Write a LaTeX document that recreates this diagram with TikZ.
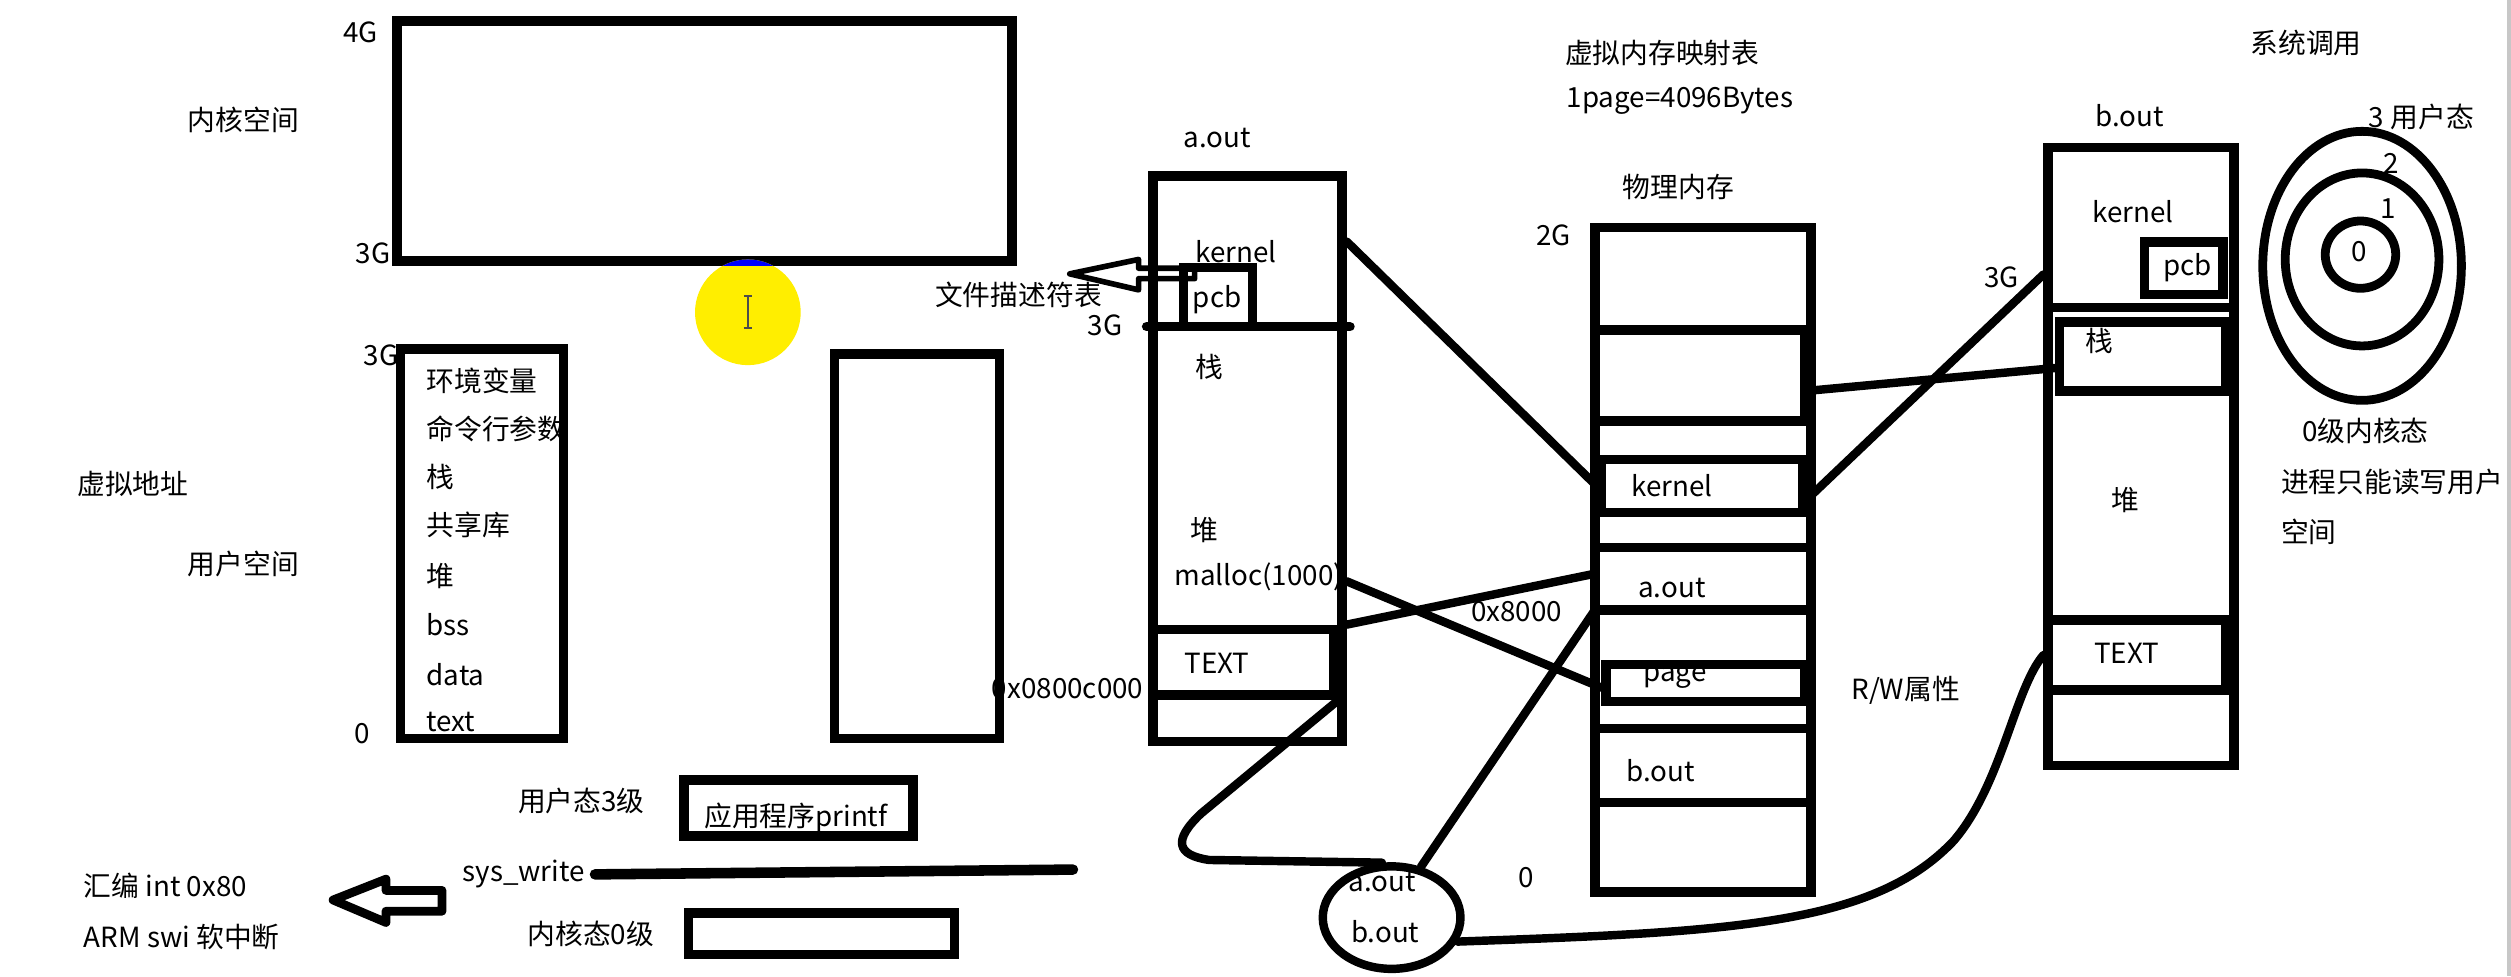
\documentclass[tikz,border=0pt]{standalone}
\usepackage{fontspec}
\setmainfont{Noto Sans CJK SC}
\usetikzlibrary{fit,shapes.geometric,calc}
\definecolor{hl}{RGB}{255,238,0}
\begin{document}
\begin{tikzpicture}[x=0.16014mm,y=-0.16014mm,
  bx/.style={draw, line width=2.7pt, inner sep=0pt, rectangle},
  ln/.style={line width=2.7pt},
  conn/.style={line width=2.4pt, line cap=round, line join=round},
  ring/.style={draw, ellipse, line width=2.5pt, inner sep=0pt},
  tx/.style={inner sep=0pt, font=\fontsize{7.9}{9.5}\selectfont},
]
\useasboundingbox (0,0) rectangle (1568,609.5);
\fill[white] (0,0) rectangle (1568,609.5);
\fill[black!22] (1565.6,0) rectangle (1568,609.5);

% ---------- left: kernel / user space ----------
\node[tx] (l4g) at (225,20) {4G};
\node[tx] (l3ga) at (233,158) {3G};
\node[tx] (lksp) at (152,75) {内核空间};
\node[bx, fit={(248,13)(632,163)}] (ksp) {};

\fill[hl] (467,195) circle [radius=5.285mm];
\begin{scope}
  \clip (467,195) circle [radius=5.285mm];
  \fill[blue] (420,160) rectangle (520,166.3);
\end{scope}
\draw[line width=0.5pt, black!70] (464.5,185)--(469.5,185) (467,185)--(467,205) (464.5,205)--(469.5,205);

\node[tx] (l3gb) at (238,222) {3G};
\node[tx] (l0a) at (226,458) {0};
\node[tx] (lva) at (83,302) {虚拟地址};
\node[tx] (lusp) at (152,352) {用户空间};
\node[tx, anchor=west] (u1) at (266,238) {环境变量};
\node[tx, anchor=west] (u2) at (266,268) {命令行参数};
\node[tx, anchor=west] (u3) at (266,298) {栈};
\node[tx, anchor=west] (u4) at (266,328) {共享库};
\node[tx, anchor=west] (u5) at (266,360) {堆};
\node[tx, anchor=west] (u6) at (266,390) {bss};
\node[tx, anchor=west] (u7) at (266,421) {data};
\node[tx, anchor=west] (u8) at (266,451) {text};
\node[bx, fit={(250,218)(352,461)}] (usp) {};

\node[tx, anchor=west] (t0800) at (619,430) {0x0800c000};
\node[bx, fit={(521,221)(624,461)}] (ebox) {};

% ---------- a.out ----------
\node[tx] (ta1) at (760,86) {a.out};
\node[tx] (tker1) at (772,157) {kernel};
\node[tx] (tpcb1) at (760,187) {pcb};
\node[tx] (tstk1) at (755,229) {栈};
\node[tx] (theap1) at (752,331) {堆};
\node[tx] (tmalloc) at (786,360) {malloc(1000)};
\node[tx] (ttext1) at (760,414) {TEXT};
\node[tx] (tfd) at (636,184) {文件描述符表};
\node[tx] (t3g2) at (690,203) {3G};
\node[bx, fit={(720,110)(838,463)}] (abox) {};
\node[bx, fit={(739,167)(782,204)}] (apcb) {};
\draw[ln, line cap=round] (716,204) -- (843,204);
\draw[ln] (720,393) -- (838,393);
\draw[ln] (720,434) -- (838,434);
\node[bx, fit={(720,393)(833,434)}] (atext) {};
\draw[line width=1.6pt, line join=round] (668,171) -- (711,162) -- (711,167.5) -- (746,167.5) -- (746,174) -- (711,174) -- (711,181) -- cycle;

% ---------- physical memory ----------
\node[tx] (tvm) at (1038,33) {虚拟内存映射表};
\node[tx] (tpg) at (1049,63) {1page=4096Bytes};
\node[tx] (tphys) at (1048,117) {物理内存};
\node[tx] (t2g) at (970,147) {2G};
\node[tx] (t8000) at (947,382) {0x8000};
\node[tx] (tz) at (953,548) {0};
\node[tx] (trw) at (1190,431) {R/W属性};
\node[bx, fit={(996,142)(1131,557)}] (pbox) {};
\node[bx, fit={(996,206)(1127,263)}] (pbox2) {};
\node[bx, fit={(1000,287)(1126,320)}] (pker) {};
\draw[ln] (996,342) -- (1131,342);
\draw[ln] (996,381) -- (1131,381);
\node[inner sep=0pt, fit={(996,342)(1131,381)}] (paout) {};
\node[bx, fit={(1003,415)(1127,438)}] (ppage) {};
\draw[ln] (996,455) -- (1131,455);
\draw[ln] (996,501) -- (1131,501);
\node[tx] (tpker) at (1044,303) {kernel};
\node[tx] (tpaout) at (1044,367) {a.out};
\node[tx] (tpage) at (1046,423) {page};
\node[tx] (tpbout) at (1037,481) {b.out};

% ---------- b.out ----------
\node[tx] (tbout) at (1330,72) {b.out};
\node[tx] (tbker) at (1332,132) {kernel};
\node[tx] (tbpcb) at (1366,167) {pcb};
\node[tx] (tb3g) at (1250,173) {3G};
\node[tx] (tbstk) at (1311,213) {栈};
\node[tx] (tbheap) at (1327,312) {堆};
\node[tx] (tbtext) at (1328,408) {TEXT};
\node[bx, fit={(1279,92)(1395,478)}] (bbox) {};
\draw[ln] (1279,192) -- (1395,192);
\node[bx, fit={(1339,151)(1388,184)}] (bpcb) {};
\node[bx, fit={(1286,201)(1390,244)}] (bstack) {};
\draw[ln] (1279,387) -- (1395,387);
\draw[ln] (1279,431) -- (1395,431);
\node[bx, fit={(1279,387)(1390,431)}] (btext) {};

% ---------- rings ----------
\node[tx] (tsc) at (1440,27) {系统调用};
\node[tx] (tr3) at (1512,73) {3 用户态};
\node[ring, minimum width=19.86mm, minimum height=26.9mm] (ring3) at (1475,166) {};
\node[ring, minimum width=15.37mm, minimum height=17.3mm] (ring2) at (1475,162) {};
\node[ring, minimum width=7.05mm, minimum height=6.73mm] (ring0) at (1474,159) {};
\node[tx] (tr2) at (1493,102) {2};
\node[tx] (tr1) at (1491,130) {1};
\node[tx] (tr0) at (1473,157) {0};
\node[tx] (tk0) at (1477,269) {0级内核态};
\node[tx, anchor=west] (tproc) at (1424,301) {进程只能读写用户};
\node[tx, anchor=west] (tsp) at (1424,332) {空间};

% ---------- bottom left ----------
\node[tx] (tu3) at (363,500) {用户态3级};
\node[bx, fit={(427,487)(570,522)}] (bprintf) {};
\node[tx] (tprintf) at (497,511) {应用程序printf};
\node[tx] (tsys) at (327,546) {sys\_write};
\coordinate (swend) at (670,543);
\draw[line width=3pt, line cap=round] ($(tsys.east)+(6,0)$) -- (swend);
\draw[line width=2.5pt, line join=round] (208,562) -- (241,549) -- (241,556) -- (276,556) -- (276,569) -- (241,569) -- (241,576) -- cycle;
\node[tx, anchor=west] (tasm) at (52,553) {汇编 int 0x80};
\node[tx, anchor=west] (tarm) at (52,585) {ARM swi 软中断};
\node[tx] (tk0b) at (369,583) {内核态0级};
\node[bx, fit={(430,570)(596,596)}] (bk0) {};

% ---------- program ellipse ----------
\node[draw, ellipse, line width=2.4pt, inner sep=0pt, minimum width=13.77mm, minimum height=10.25mm] (prog) at (869,573) {};
\node[tx] (tpa) at (863,551) {a.out};
\node[tx] (tpb) at (865,582) {b.out};

% ---------- connectors ----------
\draw[conn] ($(abox.north east)!0.122!(abox.south east)$) -- (pker.west);
\draw[conn] ($(pbox2.north east)!0.65!(pbox2.south east)$) -- ($(bstack.north west)!0.65!(bstack.south west)$);
\draw[conn] ($(pker.north east)!0.7!(pker.south east)$) -- ($(bbox.north west)!0.21!(bbox.south west)$);
\draw[conn] ($(abox.east |- tmalloc.east)+(0,3)$) -- ($(ppage.north west)!0.6!(ppage.south west)$);
\draw[conn] (abox.east |- atext.north) -- ($(paout.north west)!0.42!(paout.south west)$);
\draw[conn] (prog.60) -- (paout.south west);
\draw[conn] (atext.south east) -- (750,508) .. controls (732,525) and (735,534) .. (755,537) -- (prog.100);
\draw[conn] (prog.-20) .. controls (1080,582) and (1170,578) .. (1220,525) .. controls (1250,490) and (1258,430) .. (btext.west);
\end{tikzpicture}
\end{document}
